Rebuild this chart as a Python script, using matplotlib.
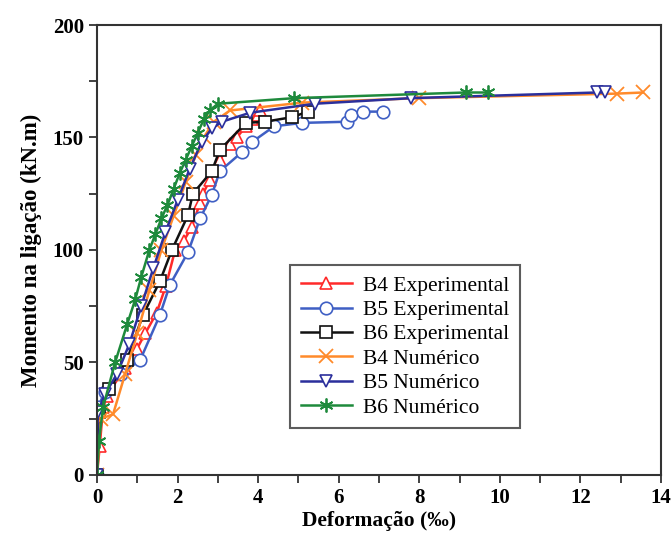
import matplotlib
matplotlib.use("Agg")
import matplotlib.pyplot as plt
from matplotlib.ticker import MultipleLocator

plt.rcParams["font.family"] = ["Liberation Serif", "DejaVu Serif"]

# ── dados ──────────────────────────────────────────────────────────────
b4_exp_x = [0, 0.07, 0.15, 0.24, 0.69, 0.99, 1.2, 1.48, 1.71, 1.94, 2.15, 2.35,
            2.56, 2.63, 2.8, 3.05, 3.3, 3.47, 3.7, 3.85, 4.0, 4.05]
b4_exp_y = [0, 13, 30, 35, 47.5, 56, 63, 72, 84, 100, 104, 110,
            121, 125, 131, 140, 147, 150, 155, 158, 160, 162]

b5_exp_x = [0, 0.02, 0.2, 0.6, 1.07, 1.56, 1.81, 2.26, 2.56, 2.85, 3.05, 3.6,
            3.85, 4.4, 5.1, 6.2, 6.3, 6.6, 7.1]
b5_exp_y = [0, 30, 37, 45, 51, 71, 84.5, 99, 114, 124.5, 135, 143.5,
            148, 155, 156.5, 157, 160, 161.5, 161.5]

b6_exp_x = [0, 0.05, 0.3, 0.74, 1.14, 1.56, 1.86, 2.26, 2.38, 2.85, 3.05, 3.7,
            4.17, 4.83, 5.24]
b6_exp_y = [0, 28, 38, 51, 71, 86, 100, 115.5, 125, 135, 144.5, 156.5,
            157, 159, 161.5]

b4_num_x = [0, 0.1, 0.4, 0.7, 1.0, 1.3, 1.6, 1.9, 2.2, 2.45, 2.65, 2.9, 3.3,
            5.1, 8.0, 12.9, 13.55]
b4_num_y = [0, 25, 27, 45, 63, 82, 100, 115, 130, 142, 150, 157, 162,
            165.5, 167.5, 169.5, 170]

b5_num_x = [0, 0.02, 0.2, 0.5, 0.8, 1.1, 1.4, 1.7, 2.0, 2.3, 2.6, 2.85, 3.1,
            3.8, 5.4, 7.8, 12.4, 12.6]
b5_num_y = [0, 28, 36, 45, 58, 75, 92, 108, 122, 136, 148, 154, 157,
            161, 165, 167.5, 170, 170]

b6_num_x = [0, 0.05, 0.15, 0.45, 0.75, 0.95, 1.1, 1.3, 1.45, 1.6, 1.75, 1.9,
            2.05, 2.2, 2.35, 2.5, 2.65, 2.8, 3.0, 4.9, 9.15, 9.7]
b6_num_y = [0, 15, 30, 50, 67, 78, 88, 100, 107, 114, 120, 127,
            134, 140, 146, 152, 158, 162, 165, 167.5, 170, 170]

fig = plt.figure(figsize=(6.72, 5.4), dpi=100)
ax = fig.add_axes([0.1443, 0.1204, 0.8393, 0.8333])

series = [
    (b4_exp_x, b4_exp_y, "#ff2a2a", "^", "B4 Experimental"),
    (b5_exp_x, b5_exp_y, "#3f5fc4", "o", "B5 Experimental"),
    (b6_exp_x, b6_exp_y, "#111111", "s", "B6 Experimental"),
    (b4_num_x, b4_num_y, "#ff8a2a", "x", "B4 Numérico"),
    (b5_num_x, b5_num_y, "#2b2f9c", "v", "B5 Numérico"),
    (b6_num_x, b6_num_y, "#1e8a3c", (6, 2, 0), "B6 Numérico"),
]

for x, y, c, m, lab in series:
    if m == "x" or isinstance(m, tuple):
        ax.plot(x, y, color=c, lw=1.8, marker=m, ms=10, mew=1.3,
                label=lab)
    else:
        ax.plot(x, y, color=c, lw=1.8, marker=m, ms=9, mew=1.2,
                mfc="white", mec=c, label=lab)

ax.set_xlim(0, 14)
ax.set_ylim(0, 200)
ax.xaxis.set_major_locator(MultipleLocator(2))
ax.xaxis.set_minor_locator(MultipleLocator(1))
ax.yaxis.set_major_locator(MultipleLocator(50))
ax.yaxis.set_minor_locator(MultipleLocator(25))
ax.tick_params(which="both", direction="out", length=6, width=1.3,
               color="#333333", top=False, right=False)
ax.tick_params(labelsize=15)
for lab in ax.get_xticklabels() + ax.get_yticklabels():
    lab.set_fontweight("bold")
for sp in ax.spines.values():
    sp.set_linewidth(1.5)
    sp.set_color("#333333")

ax.set_xlabel("Deformação (‰)", fontsize=15.5, fontweight="bold", labelpad=2)
ax.set_ylabel("Momento na ligação (kN.m)", fontsize=16.5, fontweight="bold",
              labelpad=8)

leg = ax.legend(loc="upper left", bbox_to_anchor=(0.342, 0.467), fontsize=15.5,
                frameon=True, fancybox=False, edgecolor="#333333",
                handlelength=2.4, borderpad=0.5, labelspacing=0.2,
                handletextpad=0.5, borderaxespad=0)
leg.get_frame().set_linewidth(1.5)

fig.savefig("out.png", dpi=100)
